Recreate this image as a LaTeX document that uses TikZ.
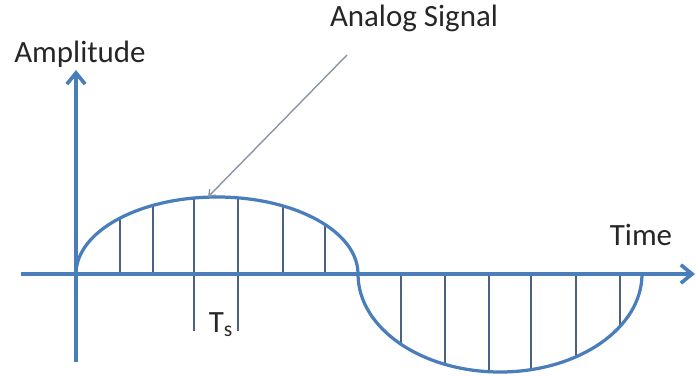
\documentclass[tikz,border=0pt]{standalone}
\usepackage{fontspec}
\setmainfont{Carlito}
\usetikzlibrary{arrows.meta}
\definecolor{axisblue}{HTML}{4A7EBB}
\definecolor{smpblue}{HTML}{4A6282}
\definecolor{ptrgray}{HTML}{8A96A3}
\definecolor{txtgray}{HTML}{262626}

\begin{document}
\begin{tikzpicture}[x=0.025cm,y=0.025cm,>={Straight Barb[length=8pt,width=13pt]}]
\tikzstyle{axis}=[draw=axisblue,line width=2.6pt,->]
\tikzstyle{wave}=[draw=axisblue,line width=2.3pt]
\tikzstyle{smp}=[draw=smpblue,line width=0.8pt]
\tikzstyle{ptr}=[draw=ptrgray,line width=1pt,-{Straight Barb[length=4pt,width=6pt]}]
\tikzstyle{lbl}=[font=\fontsize{22}{26}\selectfont,text=txtgray,inner sep=0pt,anchor=base]
\useasboundingbox (0,0) rectangle (696,375);
\coordinate (o) at (76,101);
\coordinate (ybot) at (76,13);
\coordinate (ytop) at (76,305);
\coordinate (xl) at (21,101);
\coordinate (xr) at (695,101);
\coordinate (ptrtail) at (347,320);
\coordinate (peak) at (208,178);
% samples
\foreach \x/\b in {120/101,153/101,194/44,238/44,283/101,325/101}
  \draw[smp] (\x,\b) -- (\x,{101+77*sqrt(1-((\x-217)/141)^2)});
\foreach \x in {401,445,489,531,576,620}
  \draw[smp] (\x,101) -- (\x,{101-98*sqrt(1-((\x-500)/142)^2)});
% signal
\draw[wave] (o) arc[start angle=180,end angle=0,x radius=141,y radius=77]
  arc[start angle=180,end angle=360,x radius=142,y radius=98];
\draw[axis] (ybot) -- (ytop);
\draw[axis] (xl) -- (xr);
\node[lbl] (amp) at (80,312) {Amplitude};
\node[lbl] (time) at (641,130) {Time};
\node[lbl] (analog) at (414,348) {Analog Signal};
\node[lbl] (ts) at (221,43) {T\textsubscript{s}};
\draw[ptr] (ptrtail) -- (peak);
\end{tikzpicture}
\end{document}
